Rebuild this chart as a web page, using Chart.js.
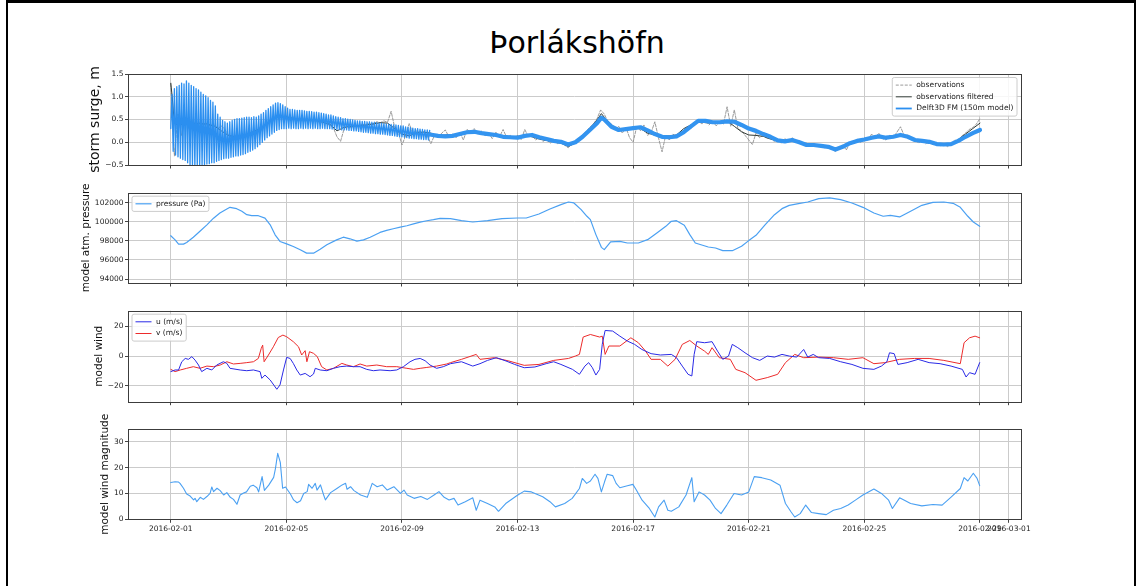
<!DOCTYPE html>
<html>
<head>
<meta charset="utf-8">
<title>Þorlákshöfn</title>
<script src="https://cdn.jsdelivr.net/npm/chart.js@4.4.1/dist/chart.umd.min.js"></script>
<style>
  html, body { margin: 0; padding: 0; background: #fff; }
  #page { position: relative; width: 1138px; height: 586px; overflow: hidden; font-family: 'DejaVu Sans', sans-serif; }
  #page canvas { position: absolute; left: 0; top: 0; }
  #frame { position: absolute; left: 6px; top: 0; width: 1130px; height: 620px; box-sizing: border-box;
           border-left: 2px solid #000; border-right: 2px solid #000; border-top: 3px solid #000; }
  #title { position: absolute; left: 0; width: 1154px; top: 28px; text-align: center;
           font-size: 30px; line-height: 30px; color: #000; }
</style>
</head>
<body>
<div id="page">
  <div id="frame"></div>
  <div id="title">Þorlákshöfn</div>
  <canvas id="surge" width="1138" height="586"></canvas>
  <canvas id="pressure" width="1138" height="586"></canvas>
  <canvas id="wind" width="1138" height="586"></canvas>
  <canvas id="windMag" width="1138" height="586"></canvas>
</div>
<script>
// time axis: days since 2016-02-01 00:00
const dateTickDays = [0, 4, 8, 12, 16, 20, 24, 28, 29];
const dateTickLabels = ['2016-02-01', '2016-02-05', '2016-02-09', '2016-02-13', '2016-02-17',
                        '2016-02-21', '2016-02-25', '2016-02-29', '2016-03-01'];

// storm surge (m)
const surgeTicks = [-0.5, 0, 0.5, 1, 1.5];

// observations, 3-hourly
const OBS_STEP = 1 / 8;
const obsSurge = [
  1.28, -0.30, 0.62, 0.15, 0.55, 0.30, 0.48, 0.35,
  0.45, 0.38, 0.42, 0.35, 0.40, 0.30, 0.36, 0.28,
  0.15, 0.10, 0.14, 0.08, 0.16, 0.12, 0.20, 0.18,
  0.25, 0.30, 0.36, 0.42, 0.48, 0.55, 0.60, 0.56,
  0.58, 0.52, 0.55, 0.48, 0.52, 0.47, 0.50, 0.46,
  0.50, 0.44, 0.47, 0.40, 0.38, 0.32, 0.12, 0.02,
  0.30, 0.36, 0.32, 0.38, 0.35, 0.40, 0.36, 0.42,
  0.40, 0.45, 0.43, 0.47, 0.44, 0.68, 0.32, 0.22,
  -0.06, 0.14, 0.41, 0.20, 0.26, 0.18, 0.24, 0.15,
  -0.03, 0.15, 0.10, 0.20, 0.27, 0.12, 0.18, 0.10,
  0.22, 0.05, 0.28, 0.22, 0.30, 0.18, 0.25, 0.14,
  0.20, 0.08, 0.22, 0.12, 0.28, 0.10, 0.15, 0.08,
  0.15, 0.06, 0.28, 0.12, 0.15, 0.05, 0.10, 0.02,
  0.06, -0.02, 0.04, -0.03, 0.02, -0.06, -0.12, -0.05,
  0.00, 0.08, 0.16, 0.24, 0.33, 0.40, 0.52, 0.71,
  0.62, 0.45, 0.40, 0.28, 0.35, 0.20, 0.33, 0.10,
  0.00, 0.35, 0.25, 0.38, 0.15, 0.22, 0.45, 0.10,
  -0.21, 0.15, 0.05, 0.18, 0.10, 0.22, 0.25, 0.35,
  0.30, 0.42, 0.48, 0.40, 0.50, 0.38, 0.46, 0.36,
  0.45, 0.40, 0.78, 0.35, 0.71, 0.30, 0.25, 0.15,
  0.05, -0.05, 0.20, 0.10, 0.16, 0.08, 0.12, 0.02,
  0.06, -0.02, 0.08, 0.00, 0.10, 0.03, 0.04, -0.03,
  -0.02, -0.10, -0.03, -0.08, -0.05, -0.12, -0.08, -0.15,
  -0.20, -0.12, -0.06, -0.17, -0.02, 0.02, 0.06, 0.00,
  0.10, 0.04, 0.18, 0.10, 0.20, 0.08, 0.05, 0.15,
  0.10, 0.22, 0.34, 0.15, 0.16, 0.05, 0.08, -0.02,
  0.05, -0.03, 0.04, -0.06, 0.00, -0.08, -0.02, -0.10,
  -0.04, 0.05, 0.02, 0.14, 0.20, 0.28, 0.32, 0.40,
  0.52
];

const obsFiltered = [
  [0, 1.30], [0.05, 1.00], [0.1, 0.60], [0.15, 0.40], [0.25, 0.38], [0.5, 0.40], [0.75, 0.42],
  [1.0, 0.41], [1.25, 0.40], [1.5, 0.36], [1.75, 0.25], [2.0, 0.15], [2.25, 0.12], [2.5, 0.15],
  [2.75, 0.20], [3.0, 0.28], [3.25, 0.38], [3.5, 0.50], [3.75, 0.58], [4.0, 0.56], [4.25, 0.52],
  [4.5, 0.50], [5.0, 0.48], [5.5, 0.40], [5.75, 0.25], [6.0, 0.33], [6.25, 0.35], [6.5, 0.36],
  [6.75, 0.38], [7.0, 0.40], [7.25, 0.43], [7.5, 0.42], [7.75, 0.30], [8.0, 0.18], [8.25, 0.14],
  [8.5, 0.22], [8.75, 0.22], [9.0, 0.20], [9.25, 0.14], [9.5, 0.16], [9.75, 0.16], [10.0, 0.20],
  [10.25, 0.24], [10.5, 0.22], [10.75, 0.19], [11.0, 0.19], [11.25, 0.17], [11.5, 0.13],
  [11.75, 0.12], [12.0, 0.13], [12.25, 0.15], [12.5, 0.12], [12.75, 0.07], [13.0, 0.04],
  [13.25, 0.01], [13.5, -0.02], [13.75, -0.09], [14.0, -0.02], [14.25, 0.12], [14.5, 0.30],
  [14.75, 0.49], [14.9, 0.63], [15.0, 0.55], [15.25, 0.38], [15.5, 0.28], [15.75, 0.27],
  [16.0, 0.33], [16.25, 0.30], [16.5, 0.20], [16.75, 0.16], [17.0, 0.13], [17.25, 0.14],
  [17.5, 0.16], [17.75, 0.30], [18.0, 0.38], [18.25, 0.45], [18.5, 0.43], [18.75, 0.42],
  [19.0, 0.44], [19.25, 0.47], [19.5, 0.35], [19.75, 0.23], [20.0, 0.16], [20.25, 0.15],
  [20.5, 0.13], [20.75, 0.07], [21.0, 0.03], [21.25, 0.04], [21.5, 0.06], [21.75, 0.01],
  [22.0, -0.05], [22.25, -0.06], [22.5, -0.08], [22.75, -0.11], [23.0, -0.17], [23.25, -0.09],
  [23.5, -0.03], [23.75, 0.03], [24.0, 0.07], [24.25, 0.12], [24.5, 0.15], [24.75, 0.10],
  [25.0, 0.12], [25.25, 0.18], [25.5, 0.12], [25.75, 0.04], [26.0, 0.01], [26.25, -0.02],
  [26.5, -0.05], [26.75, -0.06], [27.0, -0.05], [27.25, 0.06], [27.5, 0.18], [27.75, 0.30],
  [28.0, 0.42]
];

// model spin-up: troughs and crests of the 2-hourly oscillation, first 9 days
const MODEL_STEP = 1 / 12;
const modelTroughs = [
  0.30, -0.20, -0.28, -0.32, -0.35, -0.38,
  -0.40, -0.45, -0.50, -0.52, -0.55, -0.52,
  -0.55, -0.50, -0.52, -0.48, -0.47, -0.45,
  -0.45, -0.42, -0.40, -0.38, -0.36, -0.35,
  -0.35, -0.33, -0.32, -0.30, -0.30, -0.28,
  -0.27, -0.25, -0.22, -0.20, -0.17, -0.14,
  -0.10, -0.05, 0.00, 0.05, 0.10, 0.14,
  0.18, 0.22, 0.26, 0.28, 0.30, 0.30,
  0.30, 0.31, 0.30, 0.31, 0.30, 0.30,
  0.31, 0.30, 0.31, 0.30, 0.31, 0.30,
  0.31, 0.30, 0.30, 0.31, 0.30, 0.30,
  0.30, 0.29, 0.29, 0.28, 0.28, 0.27,
  0.27, 0.27, 0.26, 0.26, 0.25, 0.25,
  0.24, 0.23, 0.22, 0.22, 0.21, 0.20,
  0.20, 0.19, 0.19, 0.18, 0.18, 0.17,
  0.16, 0.15, 0.15, 0.14, 0.13, 0.12,
  0.12, 0.11, 0.10, 0.09, 0.09, 0.08,
  0.08, 0.07, 0.07, 0.06, 0.06, 0.05
];
const modelPeaks = [
  1.05, 1.18, 1.22, 1.25, 1.30, 1.28,
  1.35, 1.30, 1.25, 1.22, 1.18, 1.15,
  1.10, 1.05, 1.02, 0.98, 0.92, 0.88,
  0.80, 0.62, 0.55, 0.48, 0.45, 0.42,
  0.45, 0.48, 0.50, 0.52, 0.52, 0.53,
  0.54, 0.55, 0.55, 0.54, 0.56, 0.55,
  0.58, 0.62, 0.65, 0.70, 0.74, 0.78,
  0.82, 0.86, 0.87, 0.85, 0.82, 0.78,
  0.75, 0.72, 0.72, 0.71, 0.70, 0.70,
  0.70, 0.69, 0.68, 0.68, 0.67, 0.66,
  0.66, 0.65, 0.64, 0.63, 0.62, 0.60,
  0.60, 0.58, 0.56, 0.55, 0.54, 0.52,
  0.52, 0.51, 0.50, 0.49, 0.48, 0.47,
  0.47, 0.46, 0.46, 0.45, 0.45, 0.44,
  0.44, 0.43, 0.42, 0.42, 0.41, 0.40,
  0.40, 0.39, 0.38, 0.38, 0.37, 0.36,
  0.36, 0.34, 0.33, 0.32, 0.31, 0.30,
  0.30, 0.29, 0.28, 0.27, 0.27, 0.26
];
// model after spin-up
const modelSurge = [
  [8.96, 0.17], [9.25, 0.14], [9.5, 0.13], [9.75, 0.14], [10.0, 0.18], [10.25, 0.22], [10.5, 0.23],
  [10.75, 0.20], [11.0, 0.18], [11.25, 0.16], [11.5, 0.12], [11.75, 0.11], [12.0, 0.10],
  [12.25, 0.14], [12.5, 0.16], [12.75, 0.11], [13.0, 0.07], [13.25, 0.03], [13.5, 0.01],
  [13.75, -0.05], [14.0, 0.00], [14.25, 0.12], [14.5, 0.27], [14.75, 0.42], [14.9, 0.54],
  [15.0, 0.50], [15.25, 0.34], [15.5, 0.27], [15.75, 0.29], [16.0, 0.31], [16.25, 0.33],
  [16.5, 0.26], [16.75, 0.18], [17.0, 0.12], [17.25, 0.11], [17.5, 0.13], [17.75, 0.22],
  [18.0, 0.35], [18.25, 0.47], [18.5, 0.47], [18.75, 0.44], [19.0, 0.44], [19.25, 0.46],
  [19.5, 0.45], [19.75, 0.38], [20.0, 0.30], [20.25, 0.25], [20.5, 0.18], [20.75, 0.12],
  [21.0, 0.04], [21.25, 0.02], [21.5, 0.05], [21.75, 0.00], [22.0, -0.06], [22.25, -0.06],
  [22.5, -0.08], [22.75, -0.10], [23.0, -0.16], [23.25, -0.10], [23.5, -0.02], [23.75, 0.03],
  [24.0, 0.06], [24.25, 0.10], [24.5, 0.13], [24.75, 0.10], [25.0, 0.12], [25.25, 0.16],
  [25.5, 0.12], [25.75, 0.05], [26.0, 0.03], [26.25, 0.01], [26.5, -0.04], [26.75, -0.05],
  [27.0, -0.04], [27.25, 0.03], [27.5, 0.12], [27.75, 0.20], [28.0, 0.27]
];

// model atmospheric pressure (Pa)
const pressureTicks = [94000, 96000, 98000, 100000, 102000];
const pressurePa = [
  [0, 98550], [0.15, 98120], [0.27, 97670], [0.44, 97670], [0.55, 97840], [0.78, 98400],
  [1.0, 99000], [1.25, 99700], [1.48, 100400], [1.7, 100940], [1.94, 101370], [2.05, 101540],
  [2.28, 101400], [2.46, 101120], [2.63, 100770], [2.8, 100660], [3.03, 100660], [3.26, 100410],
  [3.44, 99700], [3.61, 98650], [3.78, 97950], [4.01, 97700], [4.24, 97420], [4.48, 97070],
  [4.7, 96720], [4.94, 96720], [5.17, 97140], [5.4, 97600], [5.74, 98120], [5.97, 98400],
  [6.2, 98230], [6.44, 97980], [6.67, 98120], [6.9, 98400], [7.24, 98900], [7.47, 99110],
  [7.7, 99290], [7.94, 99460], [8.17, 99600], [8.4, 99800], [8.63, 99990], [8.86, 100130],
  [9.09, 100240], [9.32, 100380], [9.68, 100350], [10.06, 100140], [10.45, 100000],
  [10.96, 100140], [11.46, 100350], [12.0, 100420], [12.3, 100420], [12.74, 100840],
  [13.12, 101370], [13.5, 101820], [13.76, 102100], [13.95, 102000], [14.2, 101300],
  [14.4, 100600], [14.52, 100250], [14.71, 98670], [14.9, 97330], [15.0, 97090], [15.22, 97900],
  [15.54, 97960], [15.8, 97790], [16.18, 97790], [16.5, 98140], [16.82, 98840], [17.13, 99540],
  [17.32, 100070], [17.5, 100140], [17.77, 99650], [17.96, 98670], [18.15, 97790], [18.6, 97370],
  [18.85, 97260], [19.1, 96980], [19.43, 96980], [19.75, 97440], [20.0, 98040], [20.25, 98600],
  [20.57, 99720], [20.89, 100770], [21.15, 101400], [21.4, 101750], [21.72, 101930],
  [22.04, 102100], [22.42, 102460], [22.8, 102530], [23.18, 102350], [23.57, 102000],
  [23.95, 101540], [24.33, 100950], [24.65, 100600], [24.9, 100700], [25.22, 100530],
  [25.6, 101120], [25.99, 101750], [26.37, 102070], [26.75, 102100], [27.07, 101960],
  [27.32, 101540], [27.58, 100600], [27.77, 100000], [27.99, 99540]
];

// model wind components (m/s)
const windTicks = [-20, 0, 20];
const windU = [
  [0, -10.4], [0.15, -9.3], [0.27, -9.3], [0.38, -3.8], [0.5, -1.6], [0.61, -2.2], [0.73, -0.4],
  [0.84, -2.7], [0.96, -6.0], [1.07, -10.4], [1.25, -8.2], [1.42, -9.3], [1.59, -6.0], [1.82, -3.8],
  [1.94, -4.9], [2.05, -8.2], [2.4, -9.3], [2.63, -9.8], [2.86, -9.3], [3.09, -10.4], [3.15, -14.9],
  [3.26, -12.7], [3.44, -16.0], [3.67, -22.2], [3.78, -19.3], [3.9, -9.3], [4.01, -0.9],
  [4.13, -1.6], [4.24, -4.9], [4.36, -9.3], [4.48, -12.7], [4.65, -11.6], [4.82, -13.8],
  [4.94, -12.0], [5.0, -8.2], [5.17, -9.3], [5.4, -9.8], [5.63, -8.2], [5.86, -7.1], [6.09, -6.7],
  [6.32, -7.1], [6.55, -7.1], [6.78, -8.9], [7.01, -9.8], [7.24, -9.3], [7.59, -9.8], [7.82, -9.3],
  [8.05, -7.1], [8.28, -3.8], [8.45, -2.2], [8.63, -1.6], [8.8, -3.1], [8.97, -6.0], [9.2, -8.2],
  [9.43, -7.1], [9.68, -5.1], [10.06, -3.8], [10.45, -6.7], [10.7, -5.1], [10.96, -2.9],
  [11.27, -1.1], [11.6, -3.3], [11.9, -5.6], [12.23, -7.8], [12.6, -7.3], [12.99, -5.1],
  [13.25, -3.8], [13.5, -5.6], [13.9, -8.9], [14.14, -12.2], [14.33, -6.7], [14.46, -4.4],
  [14.59, -7.8], [14.71, -12.7], [14.84, -8.9], [14.93, 7.8], [15.03, 17.1], [15.29, 16.7],
  [15.54, 13.3], [15.8, 10.0], [16.05, 7.8], [16.3, 4.4], [16.62, 1.6], [16.94, 0.7], [17.32, 1.1],
  [17.5, -1.1], [17.7, -6.7], [17.9, -12.2], [18.03, -13.3], [18.11, 1.1], [18.2, 9.6],
  [18.47, 8.9], [18.73, 9.6], [18.92, 3.3], [19.1, -2.2], [19.3, 0.0], [19.43, 7.8], [19.62, 5.6],
  [19.87, 2.2], [20.13, -1.1], [20.38, -2.9], [20.64, 0.0], [20.89, -0.7], [21.15, 1.1],
  [21.4, 0.0], [21.66, -0.7], [21.9, 4.4], [22.04, -0.7], [22.23, 1.1], [22.42, -1.1],
  [22.8, -1.6], [23.18, -3.8], [23.57, -5.6], [23.95, -8.2], [24.33, -8.9], [24.59, -6.7],
  [24.78, -3.8], [24.87, 2.2], [25.03, 1.6], [25.16, -5.6], [25.48, -4.4], [25.86, -2.2],
  [26.24, -4.4], [26.62, -5.1], [27.0, -6.7], [27.39, -8.9], [27.52, -14.0], [27.64, -11.1],
  [27.83, -12.2], [27.99, -4.4]
];
const windV = [
  [0, -8.9], [0.15, -10.4], [0.33, -9.3], [0.55, -8.2], [0.78, -7.1], [1.01, -8.2], [1.25, -6.7],
  [1.48, -7.1], [1.71, -6.0], [1.94, -3.8], [2.17, -5.3], [2.4, -4.9], [2.63, -4.4], [2.86, -3.8],
  [3.03, -1.6], [3.13, 5.1], [3.18, 7.3], [3.23, -3.8], [3.38, 0.7], [3.55, 6.2], [3.72, 12.4],
  [3.88, 14.0], [4.01, 12.9], [4.24, 9.6], [4.42, 6.2], [4.53, 0.7], [4.65, 3.6], [4.71, -3.8],
  [4.8, 2.9], [4.94, 1.8], [5.07, -0.4], [5.22, -7.1], [5.4, -9.3], [5.63, -8.2], [5.92, -4.9],
  [6.09, -6.0], [6.32, -7.1], [6.55, -5.3], [6.78, -6.7], [7.13, -6.0], [7.47, -7.1], [7.82, -7.1],
  [8.17, -8.2], [8.4, -8.9], [8.63, -8.2], [8.86, -7.6], [9.2, -6.7], [9.55, -5.3], [9.68, -4.4],
  [10.06, -2.2], [10.57, 1.1], [10.7, -2.2], [11.2, -1.1], [11.7, -3.3], [12.23, -6.2],
  [12.74, -5.6], [13.25, -2.9], [13.76, -1.6], [14.0, 0.0], [14.14, 1.1], [14.27, 12.7],
  [14.52, 14.4], [14.84, 12.7], [14.93, 13.3], [15.03, 1.1], [15.16, 6.7], [15.54, 6.7],
  [15.92, 12.2], [16.18, 8.9], [16.43, 3.3], [16.62, -2.2], [16.94, -2.2], [17.2, -6.7],
  [17.45, -2.2], [17.7, 7.8], [17.96, 10.4], [18.2, 6.7], [18.47, 3.3], [18.6, 1.1], [18.73, 5.6],
  [18.98, -1.1], [19.36, -2.2], [19.55, -8.9], [19.87, -11.1], [20.25, -16.2], [20.64, -14.4],
  [21.0, -12.2], [21.27, -4.4], [21.59, 1.1], [21.9, -1.1], [22.42, -0.7], [22.93, -1.1],
  [23.44, -2.2], [23.95, -1.1], [24.33, -5.1], [24.71, -4.4], [25.22, -2.2], [25.73, -1.6],
  [26.24, -1.6], [26.75, -2.9], [27.32, -5.1], [27.45, 8.9], [27.64, 12.2], [27.83, 13.3],
  [27.99, 12.2]
];

// model wind magnitude (m/s)
const windMagTicks = [0, 10, 20, 30];
const windMag = [
  [0, 14.2], [0.15, 14.5], [0.27, 14.4], [0.32, 13.9], [0.44, 12.0], [0.55, 9.8], [0.67, 9.0],
  [0.79, 7.5], [0.84, 8.1], [0.9, 6.8], [1.02, 8.5], [1.13, 7.7], [1.25, 8.8], [1.36, 10.0],
  [1.42, 12.5], [1.48, 10.7], [1.6, 12.0], [1.71, 11.1], [1.83, 9.4], [1.94, 10.3], [2.06, 8.5],
  [2.17, 7.7], [2.29, 5.8], [2.4, 9.4], [2.52, 10.2], [2.62, 10.6], [2.75, 12.8], [2.85, 13.2],
  [2.98, 12.2], [3.04, 10.6], [3.16, 16.5], [3.24, 11.2], [3.39, 13.2], [3.56, 16.2], [3.62, 19.5],
  [3.7, 25.5], [3.79, 22.0], [3.87, 12.0], [3.97, 12.5], [4.14, 9.8], [4.25, 7.5], [4.37, 6.4],
  [4.49, 7.2], [4.6, 10.0], [4.72, 10.7], [4.77, 13.5], [4.89, 12.0], [5.0, 13.9], [5.06, 11.3],
  [5.18, 13.3], [5.29, 9.4], [5.35, 7.5], [5.53, 10.3], [5.76, 12.0], [5.93, 13.3], [6.05, 13.9],
  [6.1, 11.6], [6.22, 12.6], [6.34, 11.1], [6.57, 9.4], [6.8, 8.5], [6.97, 13.9], [7.14, 12.6],
  [7.32, 13.3], [7.49, 11.3], [7.72, 12.6], [7.95, 10.0], [8.07, 11.3], [8.18, 9.4], [8.42, 8.1],
  [8.65, 8.8], [8.88, 7.7], [9.11, 9.4], [9.28, 10.7], [9.46, 8.5], [9.63, 7.5], [9.8, 8.1],
  [9.94, 5.5], [10.19, 6.8], [10.45, 8.3], [10.57, 3.5], [10.7, 7.4], [10.96, 6.1], [11.21, 4.8],
  [11.34, 3.1], [11.59, 6.1], [11.97, 9.1], [12.23, 10.9], [12.48, 10.6], [12.87, 8.7],
  [13.12, 6.8], [13.31, 4.8], [13.63, 6.1], [13.89, 8.1], [14.14, 11.9], [14.24, 15.8],
  [14.39, 13.9], [14.52, 14.8], [14.68, 17.4], [14.78, 15.8], [14.9, 10.6], [15.01, 14.5],
  [15.1, 17.4], [15.29, 16.9], [15.41, 13.9], [15.54, 12.2], [15.8, 13.0], [15.99, 13.5],
  [16.11, 11.3], [16.31, 7.4], [16.56, 4.2], [16.75, 0.9], [16.88, 4.8], [17.07, 7.4], [17.2, 3.5],
  [17.32, 3.1], [17.58, 4.8], [17.83, 9.4], [18.03, 16.1], [18.11, 6.8], [18.28, 10.6],
  [18.47, 9.4], [18.66, 7.4], [18.85, 4.2], [19.04, 2.2], [19.24, 5.5], [19.49, 10.0],
  [19.75, 9.4], [20.0, 10.6], [20.19, 16.5], [20.45, 16.1], [20.76, 15.2], [21.08, 13.2],
  [21.27, 6.1], [21.46, 2.9], [21.59, 0.9], [21.78, 2.2], [21.97, 5.5], [22.17, 2.6], [22.42, 2.2],
  [22.68, 1.8], [22.93, 3.5], [23.18, 4.2], [23.44, 5.5], [23.69, 7.4], [23.95, 9.4], [24.33, 11.7],
  [24.59, 10.0], [24.84, 7.4], [24.97, 4.2], [25.22, 8.3], [25.6, 6.1], [25.99, 5.2], [26.37, 5.7],
  [26.69, 5.5], [27.01, 8.7], [27.32, 11.9], [27.45, 16.1], [27.58, 14.8], [27.77, 17.8],
  [27.9, 15.8], [27.99, 13.0]
];

const PAGE_W = 1138;
const PAGE_H = 586;
const PLOT_LEFT = 128;
const PLOT_RIGHT = 1021;
const GRID = '#cbcbcb';
const TICK_FONT = { size: 7.5 };

Chart.defaults.font.family = "'DejaVu Sans', sans-serif";
Chart.defaults.color = '#222';

const toPoints = pairs => pairs.map(([x, y]) => ({ x, y }));
const minus = s => s.replace('-', '\u2212');

// matplotlib style frame round each axes
const frame = {
  id: 'frame',
  afterDraw(chart) {
    const { ctx, chartArea: a } = chart;
    ctx.save();
    ctx.strokeStyle = '#3c3c3c';
    ctx.lineWidth = 1;
    ctx.strokeRect(Math.round(a.left) + 0.5, Math.round(a.top) + 0.5,
                   Math.round(a.right - a.left), Math.round(a.bottom - a.top));
    ctx.restore();
  }
};

// legend box drawn inside the axes
const boxLegend = {
  id: 'boxLegend',
  afterDatasetsDraw(chart, args, opts) {
    const items = chart.data.datasets.filter(ds => ds.label);
    if (!items.length) return;
    const { ctx, chartArea } = chart;
    const rowH = 11.7, pad = 3.5, sample = 16, gap = 4.5;
    ctx.save();
    ctx.font = "7.5px 'DejaVu Sans'";
    const textW = Math.max(...items.map(ds => ctx.measureText(ds.label).width));
    const w = pad + sample + gap + textW + pad;
    const h = items.length * rowH + 3.5;
    const x = opts.corner === 'right' ? chartArea.right - 4 - w : chartArea.left + 4;
    const y = chartArea.top + 3.5;
    ctx.fillStyle = 'rgba(255,255,255,0.85)';
    ctx.strokeStyle = '#cccccc';
    ctx.lineWidth = 1;
    ctx.beginPath();
    ctx.roundRect(x, y, w, h, 2);
    ctx.fill();
    ctx.stroke();
    items.forEach((ds, i) => {
      const cy = y + 1.75 + rowH * (i + 0.5);
      ctx.strokeStyle = ds.borderColor;
      ctx.lineWidth = ds.legendWidth || ds.borderWidth;
      ctx.setLineDash(ds.borderDash || []);
      ctx.beginPath();
      ctx.moveTo(x + pad, cy);
      ctx.lineTo(x + pad + sample, cy);
      ctx.stroke();
      ctx.setLineDash([]);
      ctx.fillStyle = '#222';
      ctx.textBaseline = 'middle';
      ctx.fillText(ds.label, x + pad + sample + gap, cy);
    });
    ctx.restore();
  }
};

Chart.register(frame, boxLegend);

function makePanel(id, box, yAxis, datasets, legendCorner) {
  return new Chart(document.getElementById(id), {
    type: 'line',
    data: { datasets },
    options: {
      responsive: false,
      animation: false,
      events: [],
      layout: {
        padding: {
          left: box.padLeft,
          right: PAGE_W - PLOT_RIGHT,
          top: box.top,
          bottom: PAGE_H - box.bottom - box.xHeight
        }
      },
      elements: {
        point: { radius: 0 },
        line: { tension: 0, borderJoinStyle: 'round', borderCapStyle: 'round' }
      },
      plugins: {
        legend: { display: false },
        tooltip: { enabled: false },
        boxLegend: { corner: legendCorner }
      },
      scales: {
        x: {
          type: 'linear',
          min: -1.48,
          max: 29.42,
          afterBuildTicks: s => { s.ticks = dateTickDays.map(v => ({ value: v })); },
          afterFit: s => { s.height = box.xHeight; },
          ticks: {
            display: box.showDates,
            autoSkip: false,
            maxRotation: 0,
            padding: 2,
            font: TICK_FONT,
            color: '#222',
            callback: (v, i) => dateTickLabels[i]
          },
          grid: { color: GRID, lineWidth: 1, tickLength: 3.5, tickColor: '#444' },
          border: { display: false }
        },
        y: {
          type: 'linear',
          min: yAxis.min,
          max: yAxis.max,
          afterBuildTicks: s => { s.ticks = yAxis.ticks.map(v => ({ value: v })); },
          afterFit: s => { s.width = PLOT_LEFT - box.padLeft; },
          ticks: { font: TICK_FONT, color: '#222', padding: 1.5, callback: yAxis.format },
          grid: { color: GRID, lineWidth: 1, tickLength: 3, tickColor: '#444' },
          border: { display: false },
          title: {
            display: true,
            text: yAxis.title,
            color: '#111',
            font: { size: yAxis.titleSize },
            padding: 0
          }
        }
      }
    }
  });
}

// storm surge
const modelSpinUp = [];
modelPeaks.forEach((crest, i) => {
  modelSpinUp.push({ x: i * MODEL_STEP, y: modelTroughs[i] });
  modelSpinUp.push({ x: i * MODEL_STEP + MODEL_STEP / 2, y: crest });
});

makePanel('surge',
  { top: 74, bottom: 165, padLeft: 86.6, xHeight: 5, showDates: false },
  { min: -0.5, max: 1.5, ticks: surgeTicks, title: 'storm surge, m', titleSize: 14,
    format: v => minus(v.toFixed(1)) },
  [
    {
      label: 'observations',
      data: obsSurge.map((v, i) => ({ x: i * OBS_STEP, y: v })),
      borderColor: '#8e8e8e',
      borderWidth: 0.9,
      borderDash: [3, 1.5],
      order: 3,
      clip: 0
    },
    {
      label: 'observations filtered',
      data: toPoints(obsFiltered),
      borderColor: '#303a35',
      borderWidth: 1,
      order: 2,
      clip: 0
    },
    {
      label: 'Delft3D FM (150m model)',
      data: modelSpinUp,
      borderColor: '#2b8ff0',
      borderWidth: 1.3,
      legendWidth: 1.8,
      order: 1,
      clip: 0
    },
    {
      data: toPoints(modelSurge),
      borderColor: '#3394f0',
      borderWidth: 4.2,
      order: 0,
      clip: 0
    }
  ],
  'right');

// pressure
makePanel('pressure',
  { top: 192.7, bottom: 283, padLeft: 79.7, xHeight: 5, showDates: false },
  { min: 93580, max: 103080, ticks: pressureTicks, title: 'model atm. pressure', titleSize: 10.5,
    format: v => String(v) },
  [
    {
      label: 'pressure (Pa)',
      data: toPoints(pressurePa),
      borderColor: '#4aa0f2',
      borderWidth: 1.2,
      clip: 0
    }
  ],
  'left');

// wind components
makePanel('wind',
  { top: 310.7, bottom: 401.7, padLeft: 92.7, xHeight: 5, showDates: false },
  { min: -30.5, max: 30.3, ticks: windTicks, title: 'model wind', titleSize: 10.5,
    format: v => minus(String(v)) },
  [
    {
      label: 'u (m/s)',
      data: toPoints(windU),
      borderColor: '#2a2ae6',
      borderWidth: 1,
      clip: 0
    },
    {
      label: 'v (m/s)',
      data: toPoints(windV),
      borderColor: '#ec2b2b',
      borderWidth: 1,
      clip: 0
    }
  ],
  'left');

// wind magnitude
makePanel('windMag',
  { top: 429.3, bottom: 519.3, padLeft: 98.7, xHeight: 20, showDates: true },
  { min: 0, max: 34.8, ticks: windMagTicks, title: 'model wind magnitude', titleSize: 10.5,
    format: v => String(v) },
  [
    {
      data: toPoints(windMag),
      borderColor: '#4aa0f2',
      borderWidth: 1.1,
      clip: 0
    }
  ],
  'left');
</script>
</body>
</html>
